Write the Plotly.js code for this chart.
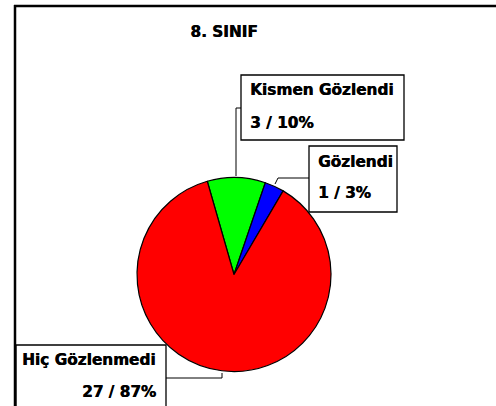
<!DOCTYPE html>
<html>
<head>
<meta charset="utf-8">
<script src="https://cdn.plot.ly/plotly-3.0.1.min.js"></script>
<style>html,body{margin:0;padding:0;background:#fff;}#chart{width:496px;height:406px;}</style>
</head>
<body>
<div id="chart"></div>
<script>
var chartTitle = "8. SINIF";
var categories = ["Kismen Gözlendi", "Gözlendi", "Hiç Gözlenmedi"];
var counts = [3, 1, 27];
var sliceColors = ["#00FF00", "#0000FF", "#FF0000"];

var W = 496, H = 406;
function px(x) { return x / W; }
function py(y) { return 1 - y / H; }
var total = counts.reduce(function (a, b) { return a + b; }, 0);
function valText(i) { return counts[i] + " / " + Math.round(counts[i] / total * 100) + "%"; }

var FONT = "DejaVu Sans, Arial, sans-serif";
var tf = {family: FONT, size: 15.3, color: "#000", weight: "bold", shadow: "0.5px 0 0 #000"};

var trace = {
  type: "pie",
  labels: categories,
  values: counts,
  marker: {colors: sliceColors, line: {color: "#000", width: 1.2}},
  sort: false,
  direction: "clockwise",
  rotation: -16,
  textinfo: "none",
  hoverinfo: "none",
  domain: {x: [px(137), px(331)], y: [py(371.5), py(177.5)]}
};

// label boxes: [x0, y0, x1, y1] in pixels
var boxes = [[241, 75, 404, 140], [309, 146, 397, 212], [16, 345, 166, 412]];
var shapes = [];
boxes.forEach(function (b) {
  shapes.push({type: "rect", xref: "paper", yref: "paper", x0: px(b[0]), x1: px(b[2]), y0: py(b[1]), y1: py(b[3]),
    line: {color: "#000", width: 1.3}, fillcolor: "#fff", layer: "above"});
});
function path(pts) {
  var s = "";
  pts.forEach(function (p, i) { s += (i ? " L " : "M ") + px(p[0]) + "," + py(p[1]); });
  return s;
}
var leaders = [
  [[241, 108], [236, 108], [236, 176]],
  [[309, 178], [278, 178], [275, 184]],
  [[166, 378], [222, 378], [222, 373]]
];
leaders.forEach(function (l) {
  shapes.push({type: "path", xref: "paper", yref: "paper", path: path(l), line: {color: "#000", width: 1}, layer: "above"});
});
// frame
shapes.push({type: "line", xref: "paper", yref: "paper", x0: px(15), x1: px(15), y0: py(5), y1: py(406), line: {color: "#000", width: 2.5}});
shapes.push({type: "line", xref: "paper", yref: "paper", x0: px(14), x1: px(496), y0: py(6), y1: py(6), line: {color: "#000", width: 2.5}});

var annotations = [];
function ann(text, x, y, anchor) {
  annotations.push({text: text, xref: "paper", yref: "paper", x: px(x), y: py(y), xanchor: anchor, yanchor: "middle",
    showarrow: false, font: tf});
}
ann(categories[0], 248, 90, "left");
ann(valText(0), 248, 122.5, "left");
ann(categories[1], 316, 161.5, "left");
ann(valText(1), 316, 193.5, "left");
ann(categories[2], 20, 360, "left");
ann(valText(2), 158, 392, "right");

var layout = {
  width: W, height: H,
  margin: {l: 0, r: 0, t: 0, b: 0},
  paper_bgcolor: "#fff",
  showlegend: false,
  hovermode: false,
  title: {text: chartTitle, x: px(224), xanchor: "center", y: py(31.5), yanchor: "middle", font: tf},
  shapes: shapes,
  annotations: annotations
};

Plotly.newPlot("chart", [trace], layout, {displayModeBar: false, staticPlot: true});
</script>
</body>
</html>
